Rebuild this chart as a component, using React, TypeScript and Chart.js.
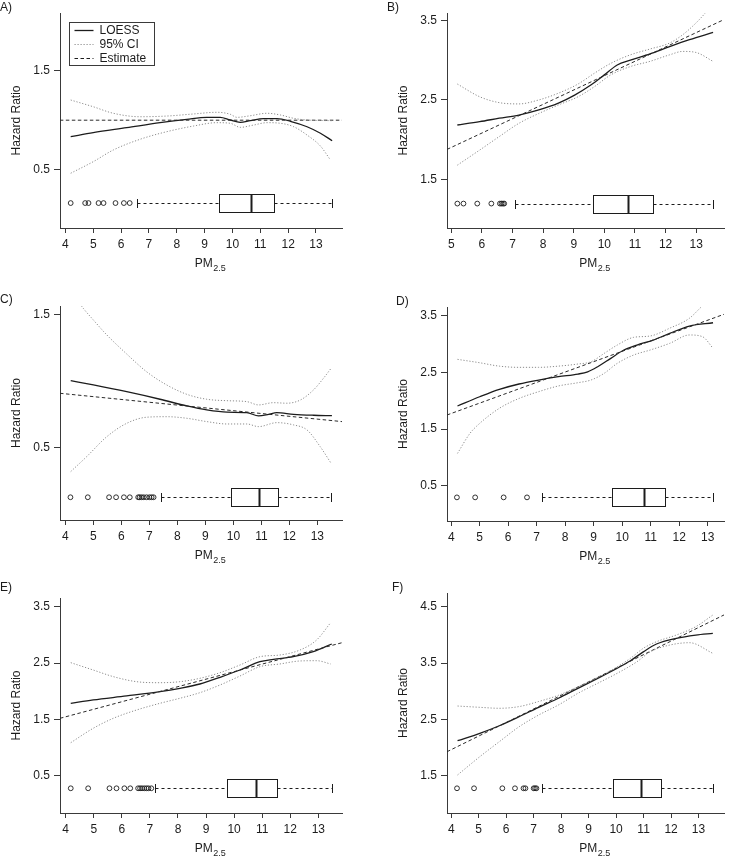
import React, { useEffect, useRef } from "react";
import { Chart, registerables } from "chart.js";
Chart.register(...registerables);

// ---------------- shared ticks ----------------
const xTicksFrom4 = [4, 5, 6, 7, 8, 9, 10, 11, 12, 13];
const xTicksFrom5 = [5, 6, 7, 8, 9, 10, 11, 12, 13];

// ---------------- Panel A ----------------
const aLoessX = [4.19, 5.0, 6.2, 7.4, 8.36, 9.08, 9.56, 9.92, 10.28, 10.64, 11.12, 11.6, 12.08, 12.68, 13.16, 13.58];
const aLoessY = [0.833, 0.874, 0.924, 0.975, 1.009, 1.029, 1.029, 1.002, 0.979, 0.995, 1.015, 1.015, 0.989, 0.934, 0.868, 0.793];
const aUpperX = [4.19, 5.0, 5.72, 6.68, 7.64, 8.6, 9.44, 9.92, 10.16, 10.64, 11.24, 11.72, 12.2, 12.68, 13.58];
const aUpperY = [1.204, 1.136, 1.07, 1.035, 1.042, 1.063, 1.08, 1.06, 1.029, 1.045, 1.07, 1.053, 1.019, 1.002, 0.995];
const aLowerX = [4.19, 5.0, 5.72, 6.68, 7.64, 8.6, 9.44, 9.92, 10.28, 10.76, 11.24, 11.72, 12.2, 12.68, 13.16, 13.52];
const aLowerY = [0.464, 0.581, 0.699, 0.807, 0.884, 0.941, 0.975, 0.969, 0.928, 0.951, 0.975, 0.969, 0.934, 0.85, 0.739, 0.598];
const aEstX = [3.8, 13.94];
const aEstY = [1.0, 1.0];
const aBox = [6.57, 9.5, 10.68, 11.5, 13.56]; // lower whisker, Q1, median, Q3, upper whisker
const aBoxAt = [0.163];
const aOutliers = [4.19, 4.71, 4.83, 5.19, 5.37, 5.8, 6.1, 6.31];
const aXRange = [3.806, 13.935];
const aYRange = [-0.089, 2.083];
const aYTicks = [0.5, 1.5];

// ---------------- Panel B ----------------
const bLoessX = [5.2, 5.93, 6.57, 7.21, 7.86, 8.5, 9.03, 9.57, 10.0, 10.42, 10.85, 11.49, 12.13, 12.78, 13.55];
const bLoessY = [2.185, 2.227, 2.27, 2.31, 2.374, 2.46, 2.56, 2.69, 2.815, 2.94, 3.0, 3.08, 3.17, 3.257, 3.35];
const bUpperX = [5.2, 5.93, 6.57, 7.21, 7.86, 8.5, 9.14, 9.68, 10.21, 10.85, 11.49, 12.13, 12.56, 12.99, 13.31, 13.55];
const bUpperY = [2.7, 2.54, 2.466, 2.45, 2.5, 2.585, 2.7, 2.837, 2.96, 3.067, 3.14, 3.215, 3.32, 3.467, 3.6, 3.72];
const bLowerX = [5.2, 5.93, 6.57, 7.21, 7.86, 8.5, 9.14, 9.68, 10.21, 10.85, 11.49, 12.13, 12.56, 12.99, 13.55];
const bLowerY = [1.68, 1.87, 2.04, 2.206, 2.33, 2.437, 2.54, 2.668, 2.815, 2.92, 2.985, 3.067, 3.11, 3.097, 2.985];
const bEstX = [4.862, 13.91];
const bEstY = [1.878, 3.511];
const bBox = [7.09, 9.64, 10.78, 11.58, 13.55];
const bBoxAt = [1.197];
const bOutliers = [5.2, 5.4, 5.85, 6.31, 6.59, 6.64, 6.69, 6.73];
const bXRange = [4.862, 13.91];
const bYRange = [0.89, 3.593];
const bYTicks = [1.5, 2.5, 3.5];

// ---------------- Panel C ----------------
const cLoessX = [4.19, 5.0, 6.19, 7.38, 8.34, 9.05, 9.77, 10.48, 10.9, 11.26, 11.55, 12.15, 12.86, 13.52];
const cLoessY = [1.003, 0.971, 0.92, 0.863, 0.812, 0.782, 0.765, 0.762, 0.737, 0.749, 0.762, 0.749, 0.742, 0.739];
const cUpperX = [4.19, 4.64, 5.0, 5.48, 6.19, 6.9, 7.62, 8.34, 9.05, 9.77, 10.48, 10.9, 11.43, 11.91, 12.39, 12.86, 13.22, 13.49];
const cUpperY = [1.68, 1.55, 1.462, 1.349, 1.205, 1.071, 0.971, 0.9, 0.863, 0.852, 0.845, 0.82, 0.837, 0.833, 0.857, 0.933, 1.022, 1.097];
const cLowerX = [4.19, 4.76, 5.48, 6.19, 6.9, 7.62, 8.34, 9.05, 9.77, 10.48, 10.9, 11.55, 12.15, 12.63, 13.1, 13.49];
const cLowerY = [0.316, 0.429, 0.58, 0.681, 0.727, 0.731, 0.719, 0.694, 0.676, 0.676, 0.656, 0.686, 0.669, 0.631, 0.505, 0.379];
const cEstX = [3.807, 13.88];
const cEstY = [0.908, 0.694];
const cBox = [7.41, 9.9, 10.93, 11.6, 13.49];
const cBoxAt = [0.122];
const cOutliers = [4.18, 4.8, 5.56, 5.81, 6.09, 6.3, 6.6, 6.65, 6.72, 6.8, 6.9, 7.0, 7.08, 7.15];
const cXRange = [3.807, 13.88];
const cYRange = [-0.05, 1.568];
const cYTicks = [0.5, 1.5];

// ---------------- Panel D ----------------
const dLoessX = [4.22, 5.0, 5.69, 6.38, 7.07, 7.76, 8.45, 8.79, 9.14, 9.6, 10.06, 10.52, 11.09, 11.67, 12.36, 13.19];
const dLoessY = [1.907, 2.07, 2.2, 2.295, 2.365, 2.424, 2.471, 2.51, 2.6, 2.748, 2.895, 2.983, 3.07, 3.19, 3.318, 3.376];
const dUpperX = [4.22, 5.0, 5.69, 6.38, 7.07, 7.76, 8.45, 8.91, 9.37, 9.83, 10.4, 10.98, 11.67, 12.36, 12.76];
const dUpperY = [2.73, 2.67, 2.61, 2.589, 2.589, 2.61, 2.648, 2.688, 2.836, 2.983, 3.118, 3.142, 3.28, 3.455, 3.647];
const dLowerX = [4.22, 4.66, 5.0, 5.69, 6.38, 7.07, 7.76, 8.45, 8.91, 9.37, 9.83, 10.4, 10.98, 11.67, 12.36, 12.82, 13.19];
const dLowerY = [1.07, 1.425, 1.6, 1.866, 2.04, 2.16, 2.26, 2.318, 2.366, 2.484, 2.66, 2.806, 2.894, 3.013, 3.16, 3.13, 2.925];
const dEstX = [3.852, 13.578];
const dEstY = [1.748, 3.526];
const dBox = [7.17, 9.63, 10.78, 11.5, 13.2];
const dBoxAt = [0.294];
const dOutliers = [4.2, 4.84, 5.84, 6.66];
const dXRange = [3.852, 13.578];
const dYRange = [-0.123, 3.654];
const dYTicks = [0.5, 1.5, 2.5, 3.5];

// ---------------- Panel E ----------------
const eLoessX = [4.18, 4.98, 6.17, 7.36, 8.07, 8.78, 9.5, 10.21, 10.92, 11.4, 12.11, 12.82, 13.48];
const eLoessY = [1.788, 1.847, 1.918, 1.994, 2.054, 2.13, 2.249, 2.378, 2.525, 2.567, 2.614, 2.703, 2.839];
const eUpperX = [4.18, 4.98, 5.7, 6.53, 7.36, 8.07, 8.78, 9.5, 10.21, 10.92, 11.63, 12.35, 12.94, 13.44];
const eUpperY = [2.508, 2.378, 2.26, 2.171, 2.153, 2.171, 2.231, 2.331, 2.467, 2.614, 2.644, 2.733, 2.91, 3.217];
const eLowerX = [4.18, 4.98, 5.7, 6.53, 7.36, 8.07, 8.78, 9.5, 10.21, 10.92, 11.63, 12.35, 12.94, 13.44];
const eLowerY = [1.09, 1.345, 1.523, 1.67, 1.788, 1.877, 1.976, 2.113, 2.272, 2.437, 2.485, 2.538, 2.543, 2.485];
const eEstX = [3.797, 13.844];
const eEstY = [1.522, 2.862];
const eBox = [7.17, 9.76, 10.78, 11.52, 13.48];
const eBoxAt = [0.282];
const eOutliers = [4.18, 4.8, 5.56, 5.81, 6.09, 6.3, 6.58, 6.65, 6.72, 6.8, 6.88, 6.95, 7.05];
const eXRange = [3.797, 13.844];
const eYRange = [-0.156, 3.654];
const eYTicks = [0.5, 1.5, 2.5, 3.5];

// ---------------- Panel F ----------------
const fLoessX = [4.23, 5.04, 5.75, 6.47, 7.18, 7.9, 8.61, 9.33, 10.04, 10.52, 10.99, 11.47, 12.19, 12.9, 13.52];
const fLoessY = [2.125, 2.256, 2.39, 2.55, 2.717, 2.877, 3.054, 3.23, 3.41, 3.543, 3.7, 3.839, 3.94, 3.998, 4.028];
const fUpperX = [4.23, 5.04, 5.75, 6.47, 7.18, 7.9, 8.61, 9.33, 10.04, 10.52, 10.99, 11.47, 12.19, 12.9, 13.52];
const fUpperY = [2.74, 2.717, 2.7, 2.73, 2.82, 2.93, 3.08, 3.245, 3.437, 3.585, 3.763, 3.88, 3.998, 4.146, 4.353];
const fLowerX = [4.23, 5.04, 5.75, 6.47, 7.18, 7.9, 8.61, 9.33, 10.04, 10.76, 11.24, 11.95, 12.67, 13.52];
const fLowerY = [1.518, 1.842, 2.108, 2.373, 2.58, 2.758, 2.965, 3.143, 3.32, 3.525, 3.7, 3.82, 3.862, 3.674];
const fEstX = [3.846, 13.93];
const fEstY = [1.93, 4.355];
const fBox = [7.31, 9.88, 10.89, 11.63, 13.54];
const fBoxAt = [1.282];
const fOutliers = [4.21, 4.83, 5.86, 6.32, 6.63, 6.7, 7.0, 7.05, 7.1];
const fXRange = [3.846, 13.93];
const fYRange = [0.844, 4.743];
const fYTicks = [1.5, 2.5, 3.5, 4.5];

// ---------------- text ----------------
const legendLabels = ["LOESS", "95% CI", "Estimate"];
const yTitle = "Hazard Ratio";
const xTitleMain = "PM";
const xTitleSub = "2.5";

const FONT = "'Liberation Sans', Arial, Helvetica, sans-serif";
const INK = "#1c1c1c";
const AXIS = "#3a3a3a";

const zip = (xs: number[], ys: number[]) => xs.map((x, i) => ({ x, y: ys[i] }));

const boxPlugin = {
  id: "rbox",
  afterDatasetsDraw(chart: any, _args: any, opts: any) {
    const { ctx } = chart;
    const xs = chart.scales.x;
    const ys = chart.scales.y;
    const [lo, q1, med, q3, hi] = opts.stats as number[];
    const yc = Math.round(ys.getPixelForValue(opts.at)) + 0.5;
    const px = (v: number) => Math.round(xs.getPixelForValue(v)) + 0.5;
    const hh = 9;
    const cap = 4.5;
    const line = (x1: number, y1: number, x2: number, y2: number) => {
      ctx.beginPath();
      ctx.moveTo(x1, y1);
      ctx.lineTo(x2, y2);
      ctx.stroke();
    };
    ctx.save();
    ctx.strokeStyle = INK;
    ctx.lineWidth = 1;
    ctx.setLineDash([3, 3]);
    line(px(lo), yc, px(q1), yc);
    line(px(q3), yc, px(hi), yc);
    ctx.setLineDash([]);
    line(px(lo), yc - cap, px(lo), yc + cap);
    line(px(hi), yc - cap, px(hi), yc + cap);
    ctx.strokeRect(px(q1), yc - hh, px(q3) - px(q1), 2 * hh);
    ctx.lineWidth = 2;
    line(px(med), yc - hh, px(med), yc + hh);
    ctx.restore();
  },
};

const textPlugin = {
  id: "rtext",
  afterDraw(chart: any, _args: any, opts: any) {
    const { ctx, chartArea } = chart;
    ctx.save();
    ctx.fillStyle = INK;
    // panel label
    ctx.font = `12px ${FONT}`;
    ctx.textAlign = "left";
    ctx.textBaseline = "middle";
    ctx.fillText(opts.label, opts.labelX, opts.labelY);
    // x title with subscript
    ctx.textBaseline = "alphabetic";
    ctx.font = `12px ${FONT}`;
    const w1 = ctx.measureText(xTitleMain).width;
    ctx.font = `9px ${FONT}`;
    const w2 = ctx.measureText(xTitleSub).width;
    const cx = (chartArea.left + chartArea.right) / 2 + 9;
    const start = cx - (w1 + w2) / 2;
    const base = chartArea.bottom + 39;
    ctx.font = `12px ${FONT}`;
    ctx.fillText(xTitleMain, start, base);
    ctx.font = `9px ${FONT}`;
    ctx.fillText(xTitleSub, start + w1 + 0.5, base + 3.5);
    // legend
    if (opts.legend) {
      const lx = chartArea.left + 8.5;
      const ly = chartArea.top + 9;
      ctx.strokeStyle = AXIS;
      ctx.lineWidth = 1;
      ctx.strokeRect(Math.round(lx) + 0.5, Math.round(ly) + 0.5, 85, 43);
      const rows = [7.5, 21.5, 36];
      const styles: [string, number[], number][] = [
        [INK, [], 1.3],
        ["#8c8c8c", [1.2, 1.8], 1],
        [INK, [3.5, 2.5], 1],
      ];
      ctx.font = `12px ${FONT}`;
      ctx.textBaseline = "middle";
      rows.forEach((r, i) => {
        const yy = Math.round(ly + r) + 0.5;
        ctx.strokeStyle = styles[i][0];
        ctx.setLineDash(styles[i][1]);
        ctx.lineWidth = styles[i][2];
        ctx.beginPath();
        ctx.moveTo(lx + 6, yy);
        ctx.lineTo(lx + 25, yy);
        ctx.stroke();
        ctx.setLineDash([]);
        ctx.fillStyle = INK;
        ctx.fillText(legendLabels[i], lx + 31, yy + 0.5);
      });
    }
    ctx.restore();
  },
};

type PanelDef = {
  label: string;
  left: number;
  top: number;
  w: number;
  h: number;
  plot: { l: number; t: number; r: number; b: number };
  yTitleCenter: number;
  labelX: number;
  labelY: number;
  legend: boolean;
  xTicks: number[];
  yTicks: number[];
  xRange: number[];
  yRange: number[];
  loess: { x: number; y: number }[];
  upper: { x: number; y: number }[];
  lower: { x: number; y: number }[];
  est: { x: number; y: number }[];
  box: number[];
  boxAt: number;
  outliers: number[];
};

function Panel({ d }: { d: PanelDef }) {
  const ref = useRef<HTMLCanvasElement>(null);
  useEffect(() => {
    const canvas = ref.current!;
    const tickFont = { family: FONT, size: 12 };
    const ciStyle = {
      type: "line" as const,
      borderColor: "#8c8c8c",
      borderWidth: 1,
      borderDash: [1.2, 1.8],
      pointRadius: 0,
      fill: false,
      cubicInterpolationMode: "monotone" as const,
    };
    const chart = new Chart(canvas, {
      type: "line",
      data: {
        datasets: [
          { ...ciStyle, data: d.upper },
          { ...ciStyle, data: d.lower },
          {
            type: "line",
            data: d.est,
            borderColor: "#2a2a2a",
            borderWidth: 1,
            borderDash: [3.5, 2.5],
            pointRadius: 0,
            fill: false,
            tension: 0,
          },
          {
            type: "line",
            data: d.loess,
            borderColor: INK,
            borderWidth: 1.3,
            pointRadius: 0,
            fill: false,
            cubicInterpolationMode: "monotone",
          },
          {
            type: "line",
            data: d.outliers.map((x) => ({ x, y: d.boxAt })),
            showLine: false,
            pointStyle: "circle",
            pointRadius: 2.4,
            pointBorderWidth: 0.9,
            pointBorderColor: INK,
            pointBackgroundColor: "rgba(0,0,0,0)",
          },
        ] as any,
      },
      options: {
        responsive: false,
        animation: false,
        devicePixelRatio: 1,
        events: [],
        layout: {
          padding: { top: d.plot.t, right: d.w - d.plot.r, left: 0, bottom: 0 },
        },
        plugins: {
          legend: { display: false },
          tooltip: { enabled: false },
          rbox: { stats: d.box, at: d.boxAt },
          rtext: { label: d.label, labelX: d.labelX, labelY: d.labelY, legend: d.legend },
        } as any,
        scales: {
          x: {
            type: "linear",
            min: d.xRange[0],
            max: d.xRange[1],
            afterBuildTicks: (s: any) => {
              s.ticks = d.xTicks.map((v) => ({ value: v }));
            },
            afterFit: (s: any) => {
              s.height = d.h - d.plot.b;
            },
            ticks: {
              font: tickFont,
              color: INK,
              padding: 4,
              autoSkip: false,
              maxRotation: 0,
              minRotation: 0,
              callback: (v: any) => String(v),
            },
            grid: {
              display: true,
              drawOnChartArea: false,
              drawTicks: true,
              tickLength: 5,
              color: AXIS,
              lineWidth: 1,
            },
            border: { display: true, color: AXIS, width: 1 },
          },
          y: {
            type: "linear",
            min: d.yRange[0],
            max: d.yRange[1],
            afterBuildTicks: (s: any) => {
              s.ticks = d.yTicks.map((v) => ({ value: v }));
            },
            afterFit: (s: any) => {
              s.width = d.plot.l;
            },
            ticks: {
              font: tickFont,
              color: INK,
              padding: 4,
              autoSkip: false,
              callback: (v: any) => Number(v).toFixed(1),
            },
            grid: {
              display: true,
              drawOnChartArea: false,
              drawTicks: true,
              tickLength: 6,
              color: AXIS,
              lineWidth: 1,
            },
            border: { display: true, color: AXIS, width: 1 },
            title: {
              display: true,
              text: yTitle,
              color: INK,
              font: { family: FONT, size: 12 },
              padding: { top: d.yTitleCenter - 7.2, bottom: 0 },
            },
          },
        },
      } as any,
      plugins: [boxPlugin, textPlugin],
    });
    return () => chart.destroy();
  }, [d]);
  return (
    <canvas
      ref={ref}
      width={d.w}
      height={d.h}
      style={{ position: "absolute", left: d.left, top: d.top, width: d.w, height: d.h }}
    />
  );
}

const panels: PanelDef[] = [
  {
    label: "A)", left: 0, top: 0, w: 364, h: 280,
    plot: { l: 60, t: 13, r: 342, b: 228 }, yTitleCenter: 17, labelX: 0, labelY: 8, legend: true,
    xTicks: xTicksFrom4, yTicks: aYTicks, xRange: aXRange, yRange: aYRange,
    loess: zip(aLoessX, aLoessY), upper: zip(aUpperX, aUpperY), lower: zip(aLowerX, aLowerY),
    est: zip(aEstX, aEstY), box: aBox, boxAt: aBoxAt[0], outliers: aOutliers,
  },
  {
    label: "B)", left: 364, top: 0, w: 365, h: 280,
    plot: { l: 83, t: 13, r: 365, b: 228 }, yTitleCenter: 40, labelX: 23, labelY: 8, legend: false,
    xTicks: xTicksFrom5, yTicks: bYTicks, xRange: bXRange, yRange: bYRange,
    loess: zip(bLoessX, bLoessY), upper: zip(bUpperX, bUpperY), lower: zip(bLowerX, bLowerY),
    est: zip(bEstX, bEstY), box: bBox, boxAt: bBoxAt[0], outliers: bOutliers,
  },
  {
    label: "C)", left: 0, top: 280, w: 364, h: 290,
    plot: { l: 60, t: 26, r: 342, b: 240 }, yTitleCenter: 17, labelX: 0, labelY: 20, legend: false,
    xTicks: xTicksFrom4, yTicks: cYTicks, xRange: cXRange, yRange: cYRange,
    loess: zip(cLoessX, cLoessY), upper: zip(cUpperX, cUpperY), lower: zip(cLowerX, cLowerY),
    est: zip(cEstX, cEstY), box: cBox, boxAt: cBoxAt[0], outliers: cOutliers,
  },
  {
    label: "D)", left: 364, top: 280, w: 365, h: 290,
    plot: { l: 83, t: 27, r: 365, b: 241 }, yTitleCenter: 40, labelX: 32, labelY: 22, legend: false,
    xTicks: xTicksFrom4, yTicks: dYTicks, xRange: dXRange, yRange: dYRange,
    loess: zip(dLoessX, dLoessY), upper: zip(dUpperX, dUpperY), lower: zip(dLowerX, dLowerY),
    est: zip(dEstX, dEstY), box: dBox, boxAt: dBoxAt[0], outliers: dOutliers,
  },
  {
    label: "E)", left: 0, top: 570, w: 364, h: 287,
    plot: { l: 60, t: 28, r: 342, b: 243 }, yTitleCenter: 17, labelX: 0, labelY: 18, legend: false,
    xTicks: xTicksFrom4, yTicks: eYTicks, xRange: eXRange, yRange: eYRange,
    loess: zip(eLoessX, eLoessY), upper: zip(eUpperX, eUpperY), lower: zip(eLowerX, eLowerY),
    est: zip(eEstX, eEstY), box: eBox, boxAt: eBoxAt[0], outliers: eOutliers,
  },
  {
    label: "F)", left: 364, top: 570, w: 365, h: 287,
    plot: { l: 83, t: 23, r: 365, b: 243 }, yTitleCenter: 40, labelX: 28, labelY: 18, legend: false,
    xTicks: xTicksFrom4, yTicks: fYTicks, xRange: fXRange, yRange: fYRange,
    loess: zip(fLoessX, fLoessY), upper: zip(fUpperX, fUpperY), lower: zip(fLowerX, fLowerY),
    est: zip(fEstX, fEstY), box: fBox, boxAt: fBoxAt[0], outliers: fOutliers,
  },
];

export default function App() {
  return (
    <div
      style={{
        position: "fixed",
        left: 0,
        top: 0,
        width: 729,
        height: 857,
        background: "#ffffff",
        overflow: "hidden",
      }}
    >
      {panels.map((p) => (
        <Panel key={p.label} d={p} />
      ))}
    </div>
  );
}
